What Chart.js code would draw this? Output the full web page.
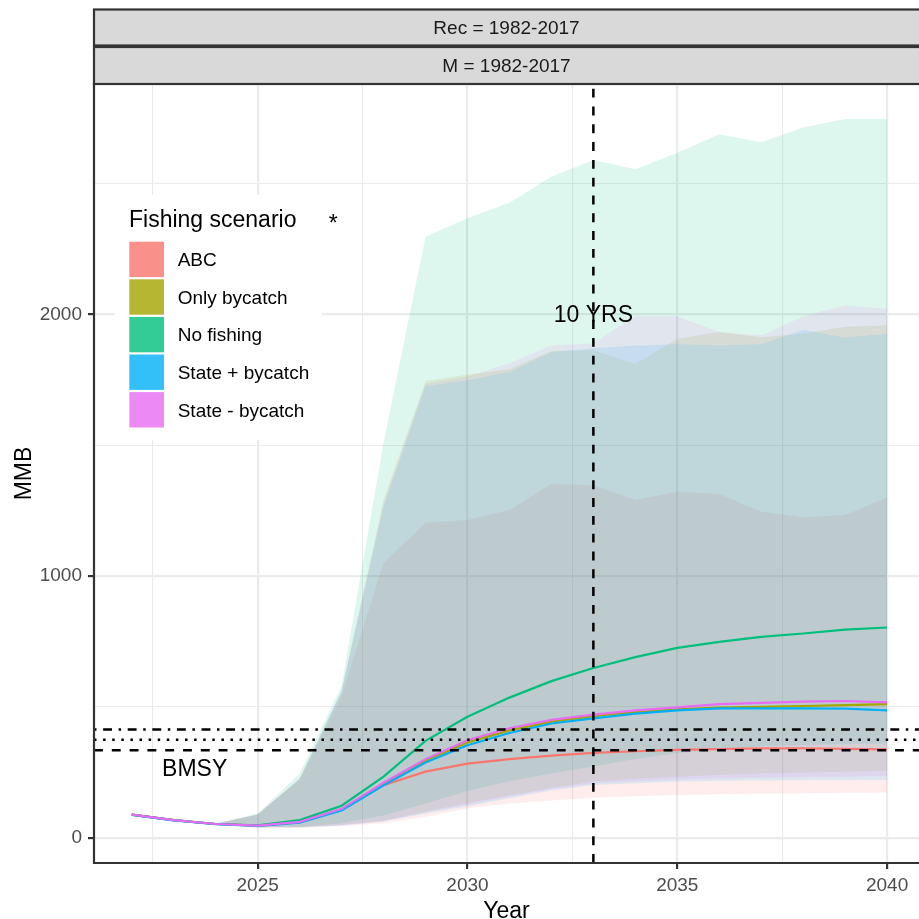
<!DOCTYPE html>
<html>
<head>
<meta charset="utf-8">
<script src="https://cdn.jsdelivr.net/npm/chart.js@4.4.1/dist/chart.umd.min.js"></script>
<style>
  html, body { margin: 0; padding: 0; background: #fff; }
</style>
</head>
<body>
<canvas id="mmbChart" width="919" height="919"></canvas>
<script>
// projection years and scenarios
var years = [2022, 2023, 2024, 2025, 2026, 2027, 2028, 2029, 2030, 2031, 2032, 2033, 2034, 2035, 2036, 2037, 2038, 2039, 2040];
var scenarios = ["ABC", "Only bycatch", "No fishing", "State + bycatch", "State - bycatch"];
var scenarioColors = ["#F8766D", "#A3A500", "#00BF7D", "#00B0F6", "#E76BF3"];

// MMB median and interval per scenario
var abcMedian = [88, 67, 52, 46, 59, 106, 200, 252, 283, 300, 313, 324, 330, 335, 338, 341, 341, 339, 337];
var abcLower  = [88, 67, 49, 38, 38, 44, 55, 80, 112, 130, 142, 152, 158, 163, 166, 168, 170, 171, 172];
var abcUpper  = [88, 67, 53, 88, 222, 540, 1049, 1203, 1214, 1252, 1351, 1347, 1290, 1322, 1313, 1245, 1224, 1233, 1300];

var onlyBycatchMedian = [88, 67, 52, 46, 59, 108, 206, 295, 364, 410, 443, 464, 480, 490, 497, 500, 503, 506, 510];
var onlyBycatchLower  = [88, 67, 50, 40, 40, 48, 65, 100, 132, 162, 190, 214, 225, 233, 240, 245, 249, 252, 256];
var onlyBycatchUpper  = [88, 67, 53, 88, 225, 560, 1290, 1745, 1770, 1790, 1860, 1862, 1810, 1906, 1932, 1912, 1926, 1952, 1958];

var noFishingMedian = [88, 67, 52, 47, 67, 122, 233, 370, 462, 535, 598, 648, 690, 725, 748, 767, 780, 795, 803];
var noFishingLower  = [88, 67, 50, 40, 42, 55, 85, 130, 178, 215, 245, 272, 300, 322, 338, 348, 354, 358, 360];
var noFishingUpper  = [88, 67, 54, 92, 245, 580, 1510, 2296, 2367, 2426, 2526, 2590, 2554, 2617, 2688, 2657, 2714, 2746, 2746];

var statePlusMedian = [87, 66, 51, 45, 57, 104, 200, 287, 353, 400, 436, 456, 474, 486, 494, 494, 494, 493, 486];
var statePlusLower  = [87, 66, 49, 39, 39, 46, 62, 92, 120, 150, 180, 201, 208, 214, 217, 218, 219, 220, 220];
var statePlusUpper  = [87, 66, 53, 88, 225, 560, 1263, 1725, 1748, 1779, 1856, 1870, 1881, 1885, 1881, 1885, 1941, 1911, 1926];

var stateMinusMedian = [88, 67, 52, 46, 60, 110, 210, 300, 372, 418, 450, 470, 486, 498, 510, 515, 520, 522, 517];
var stateMinusLower  = [88, 67, 50, 40, 40, 47, 63, 96, 126, 156, 185, 207, 215, 222, 226, 229, 232, 233, 235];
var stateMinusUpper  = [88, 67, 53, 88, 225, 560, 1280, 1735, 1762, 1813, 1881, 1889, 1992, 1992, 1932, 1919, 1992, 2034, 2021];

// reference lines and labels
var bmsyLine = 334;
var dottedLine = 374;
var dotDashLine = 413;
var tenYearMark = 2033;
var xGridValues = [2022.5, 2025, 2027.5, 2030, 2032.5, 2035, 2037.5, 2040];
var xTickLabels = [2025, 2030, 2035, 2040];
var yGridValues = [0, 500, 1000, 1500, 2000, 2500];
var yTickLabels = [0, 1000, 2000];
var stripLabels = ["Rec = 1982-2017", "M = 1982-2017"];

var medians = [abcMedian, onlyBycatchMedian, noFishingMedian, statePlusMedian, stateMinusMedian];
var lowers = [abcLower, onlyBycatchLower, noFishingLower, statePlusLower, stateMinusLower];
var uppers = [abcUpper, onlyBycatchUpper, noFishingUpper, statePlusUpper, stateMinusUpper];

var FONT = '"Liberation Sans", Arial, Helvetica, sans-serif';

function toPoints(vals) {
  return years.map(function (y, i) { return { x: y, y: vals[i] }; });
}
function withAlpha(hex, a) {
  var r = parseInt(hex.slice(1, 3), 16), g = parseInt(hex.slice(3, 5), 16), b = parseInt(hex.slice(5, 7), 16);
  return "rgba(" + r + "," + g + "," + b + "," + a + ")";
}

var datasets = [];
// median lines; lowest order is painted last, so State - bycatch ends on top
for (var i = 0; i < scenarios.length; i++) {
  datasets.push({
    label: scenarios[i],
    data: toPoints(medians[i]),
    borderColor: scenarioColors[i],
    borderWidth: 2.2,
    pointRadius: 0,
    tension: 0,
    fill: false,
    order: 4 - i
  });
}
// ribbons, painted in scenario order underneath the lines
for (var j = 0; j < scenarios.length; j++) {
  var lowIdx = datasets.length + 1;
  datasets.push({
    label: scenarios[j] + " upper",
    data: toPoints(uppers[j]),
    borderColor: "rgba(0,0,0,0)",
    borderWidth: 0,
    pointRadius: 0,
    tension: 0,
    fill: lowIdx,
    backgroundColor: withAlpha(scenarioColors[j], 0.13),
    order: 20 - j
  });
  datasets.push({
    label: scenarios[j] + " lower",
    data: toPoints(lowers[j]),
    borderColor: "rgba(0,0,0,0)",
    borderWidth: 0,
    pointRadius: 0,
    tension: 0,
    fill: false,
    order: 20 - j
  });
}

function drawText(ctx, txt, x, y, size, color, align) {
  ctx.font = size + "px " + FONT;
  ctx.fillStyle = color;
  ctx.textAlign = align || "center";
  ctx.textBaseline = "alphabetic";
  ctx.fillText(txt, x, y);
}

var overlayPlugin = {
  id: "overlay",
  afterDatasetsDraw: function (chart) {
    var ctx = chart.ctx, area = chart.chartArea;
    var xs = chart.scales.x, ys = chart.scales.y;
    ctx.save();
    ctx.beginPath();
    ctx.rect(area.left, area.top, area.right - area.left, area.bottom - area.top);
    ctx.clip();
    ctx.strokeStyle = "#000";
    ctx.lineWidth = 2.5;
    ctx.lineCap = "butt";
    var hl = [[bmsyLine, [8.9, 8.9]], [dottedLine, [2.5, 6.6]], [dotDashLine, [2.5, 6.6, 8.9, 6.6]]];
    hl.forEach(function (h) {
      var py = ys.getPixelForValue(h[0]);
      ctx.setLineDash(h[1]);
      ctx.beginPath();
      ctx.moveTo(area.left, py);
      ctx.lineTo(area.right + 10, py);
      ctx.stroke();
    });
    var px = xs.getPixelForValue(tenYearMark);
    ctx.setLineDash([8.9, 8.9]);
    ctx.beginPath();
    ctx.moveTo(px, area.bottom);
    ctx.lineTo(px, area.top);
    ctx.stroke();
    ctx.setLineDash([]);
    ctx.restore();

    ctx.save();
    drawText(ctx, "10 YRS", px, ys.getPixelForValue(2000) + 8.2, 23, "#000");
    drawText(ctx, "BMSY", xs.getPixelForValue(2023.5), ys.getPixelForValue(268) + 8.2, 23, "#000");
    ctx.restore();
  },
  afterDraw: function (chart) {
    var ctx = chart.ctx, area = chart.chartArea;
    var xs = chart.scales.x;
    ctx.save();
    // panel border
    ctx.strokeStyle = "#333333";
    ctx.lineWidth = 2.2;
    ctx.beginPath();
    ctx.moveTo(area.right + 5, area.top);
    ctx.lineTo(area.left, area.top);
    ctx.lineTo(area.left, area.bottom);
    ctx.lineTo(area.right + 5, area.bottom);
    ctx.stroke();

    // facet strips
    var strips = [[9.5, 45.5], [47, 84]];
    strips.forEach(function (s, k) {
      ctx.fillStyle = "#D9D9D9";
      ctx.fillRect(area.left, s[0], area.right - area.left + 10, s[1] - s[0]);
      ctx.strokeRect(area.left, s[0], area.right - area.left + 10, s[1] - s[0]);
      drawText(ctx, stripLabels[k], (area.left + 919) / 2, (s[0] + s[1]) / 2 + 6.8, 19, "#1A1A1A");
    });

    // legend
    ctx.fillStyle = "#FFFFFF";
    ctx.fillRect(115, 195, 207, 245);
    drawText(ctx, "Fishing scenario", 129, 227, 23, "#000", "left");
    for (var k = 0; k < scenarios.length; k++) {
      var top = 241.7 + k * 37.6;
      ctx.fillStyle = withAlpha(scenarioColors[k], 0.8);
      ctx.fillRect(129.3, top, 34.7, 35.4);
      drawText(ctx, scenarios[k], 177.7, top + 17.7 + 6.8, 19, "#000", "left");
    }
    drawText(ctx, "*", xs.getPixelForValue(2026.8), 231, 23, "#000");

    // axis titles
    drawText(ctx, "Year", (area.left + 919) / 2, 918, 23, "#000");
    ctx.translate(30.7, (area.top + area.bottom) / 2);
    ctx.rotate(-Math.PI / 2);
    drawText(ctx, "MMB", 0, 0, 23, "#000");
    ctx.restore();
  }
};

function isLabelled(list, v) {
  return list.indexOf(Math.round(v * 10) / 10) !== -1;
}
function setTicks(values) {
  return function (scale) {
    scale.ticks = values.map(function (v) { return { value: v }; });
  };
}

new Chart(document.getElementById("mmbChart"), {
  type: "line",
  data: { datasets: datasets },
  plugins: [overlayPlugin],
  options: {
    responsive: false,
    animation: false,
    devicePixelRatio: 1,
    layout: { padding: { top: 84, right: 0, left: 0, bottom: 0 } },
    plugins: {
      legend: { display: false },
      tooltip: { enabled: false },
      filler: { propagate: false }
    },
    scales: {
      x: {
        type: "linear",
        min: 2021.1,
        max: 2040.76,
        border: { display: false },
        afterBuildTicks: setTicks(xGridValues),
        ticks: {
          autoSkip: false,
          maxRotation: 0,
          padding: 5,
          color: "#4D4D4D",
          font: { family: FONT, size: 19 },
          callback: function (v) { return isLabelled(xTickLabels, v) ? String(v) : ""; }
        },
        grid: {
          color: "#EBEBEB",
          lineWidth: function (c) { return c.tick && isLabelled(xTickLabels, c.tick.value) ? 2.2 : 1.1; },
          tickColor: function (c) { return c.tick && isLabelled(xTickLabels, c.tick.value) ? "#333333" : "rgba(0,0,0,0)"; },
          tickLength: 6,
          tickWidth: 2.2
        },
        afterFit: function (s) { s.height = 56; }
      },
      y: {
        type: "linear",
        min: -97,
        max: 2880,
        border: { display: false },
        afterBuildTicks: setTicks(yGridValues),
        ticks: {
          autoSkip: false,
          padding: 6,
          color: "#4D4D4D",
          font: { family: FONT, size: 19 },
          callback: function (v) { return isLabelled(yTickLabels, v) ? String(v) : ""; }
        },
        grid: {
          color: "#EBEBEB",
          lineWidth: function (c) { return c.tick && isLabelled(yTickLabels, c.tick.value) ? 2.2 : 1.1; },
          tickColor: function (c) { return c.tick && isLabelled(yTickLabels, c.tick.value) ? "#333333" : "rgba(0,0,0,0)"; },
          tickLength: 6,
          tickWidth: 2.2
        },
        afterFit: function (s) { s.width = 94; }
      }
    }
  }
});
</script>
</body>
</html>
